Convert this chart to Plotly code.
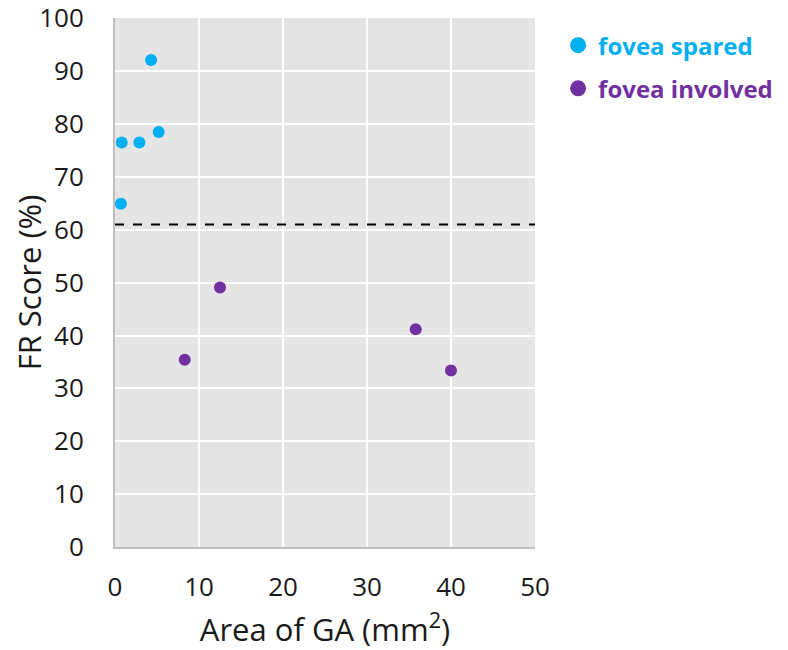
import plotly.graph_objects as go

# fovea spared eyes
spared_area = [0.7, 0.8, 2.9, 4.3, 5.2]
spared_score = [64.9, 76.5, 76.5, 92.1, 78.5]

# fovea involved eyes
involved_area = [8.3, 12.5, 35.8, 40.0]
involved_score = [35.4, 49.1, 41.2, 33.4]

threshold = 61.0
x_ticks = [0, 10, 20, 30, 40, 50]
y_ticks = [0, 10, 20, 30, 40, 50, 60, 70, 80, 90, 100]

BLUE = "#00b0f0"
PURPLE = "#7030a0"
FONT = "Open Sans"

fig = go.Figure()

# threshold line
fig.add_trace(go.Scatter(
    x=[x_ticks[0], x_ticks[-1]], y=[threshold, threshold],
    mode="lines", line=dict(color="black", width=2, dash="dash"),
    showlegend=False, hoverinfo="skip"
))

fig.add_trace(go.Scatter(
    x=spared_area, y=spared_score, mode="markers",
    marker=dict(color=BLUE, size=12), showlegend=False
))
fig.add_trace(go.Scatter(
    x=involved_area, y=involved_score, mode="markers",
    marker=dict(color=PURPLE, size=12), showlegend=False
))

# legend entries with bigger markers
fig.add_trace(go.Scatter(
    x=[None], y=[None], mode="markers", marker=dict(color=BLUE, size=22),
    legendgroup="a",
    name=f"<b><span style='color:{BLUE}'>fovea spared</span></b>"
))
fig.add_trace(go.Scatter(
    x=[None], y=[None], mode="markers", marker=dict(color=PURPLE, size=22),
    legendgroup="b",
    name=f"<b><span style='color:{PURPLE}'>fovea involved</span></b>"
))

# page body has an 8px margin, so the figure is a bit smaller than the window
fig.update_layout(
    width=780, height=642,
    margin=dict(l=107, r=253, t=10, b=103, autoexpand=False),
    plot_bgcolor="#e5e5e5", paper_bgcolor="white",
    font=dict(family=FONT, size=26, color="#1a1a1a"),
    legend=dict(x=1.055, y=0.9905, xanchor="left", yanchor="top",
                font=dict(size=24), itemsizing="trace",
                bgcolor="rgba(0,0,0,0)", tracegroupgap=9),
)

fig.update_xaxes(
    range=[0, 50], tickvals=x_ticks, showgrid=True, gridcolor="white", gridwidth=2,
    showline=True, linecolor="#bfbfbf", linewidth=2, zeroline=False,
    ticks="", ticklabelstandoff=16, automargin=False, ticklabeloverflow="allow",
    title=dict(text="Area of GA (mm<sup>2</sup>)", standoff=18)
)
fig.update_yaxes(
    range=[0, 100.05], tickvals=y_ticks, showgrid=True, gridcolor="white", gridwidth=2,
    showline=True, linecolor="#bfbfbf", linewidth=2, zeroline=False,
    ticks="", ticklabelstandoff=24, automargin=False, ticklabeloverflow="allow",
    title=dict(text="FR Score (%)", standoff=27)
)

fig.write_html("out.html")
